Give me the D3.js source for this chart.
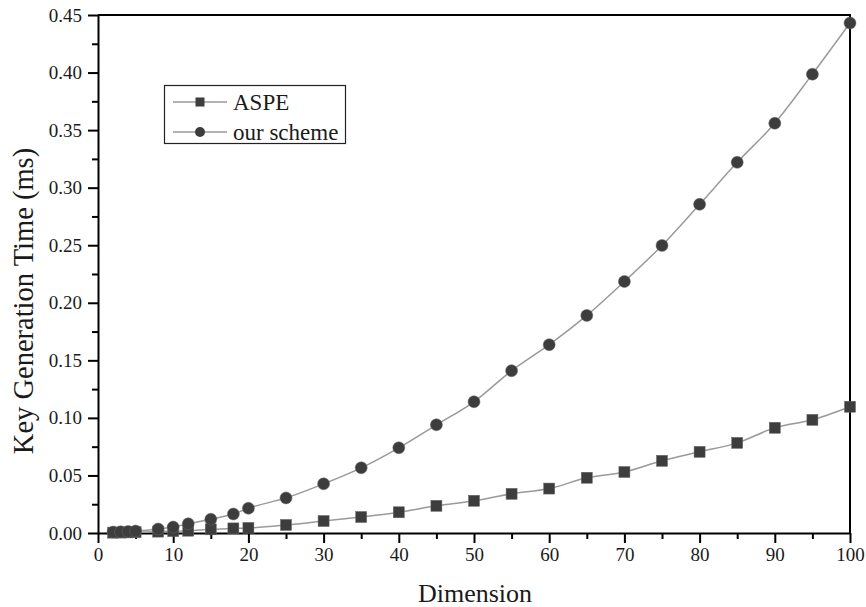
<!DOCTYPE html>
<html>
<head>
<meta charset="utf-8">
<script src="https://cdn.jsdelivr.net/npm/d3@7"></script>
<style>
  body { margin: 0; background: #fff; }
  svg { display: block; font-family: "Liberation Serif", "Times New Roman", serif; }
  .axis path, .axis line { stroke: #000; }
  .axis text { fill: #1a1a1a; font-family: "Liberation Serif", "Times New Roman", serif; }
</style>
</head>
<body>
<div id="chart"></div>
<script>
var width = 866,
    height = 607;

// data
var dims = [2, 3, 4, 5, 8, 10, 12, 15, 18, 20, 25, 30, 35, 40, 45, 50, 55, 60, 65, 70, 75, 80, 85, 90, 95, 100];
var aspe = [0.0003, 0.0004, 0.0005, 0.0007, 0.0012, 0.0016, 0.002, 0.0032, 0.0040, 0.0044, 0.0070, 0.0104, 0.0139, 0.018,
            0.0236, 0.028, 0.034, 0.0386, 0.048, 0.053, 0.0627, 0.0705, 0.0783, 0.0914, 0.0983, 0.1097];
var ourScheme = [0.0008, 0.001, 0.0013, 0.0017, 0.0035, 0.0052, 0.008, 0.012, 0.0165, 0.0215, 0.0305, 0.0427, 0.0566, 0.074,
                 0.094, 0.114, 0.141, 0.1636, 0.189, 0.2185, 0.2498, 0.2855, 0.322, 0.356, 0.3986, 0.443];
var xTicks = [0, 10, 20, 30, 40, 50, 60, 70, 80, 90, 100];
var xMinor = [5, 15, 25, 35, 45, 55, 65, 75, 85, 95];
var yTicks = [0, 0.05, 0.10, 0.15, 0.20, 0.25, 0.30, 0.35, 0.40, 0.45];
var yMinor = [0.025, 0.075, 0.125, 0.175, 0.225, 0.275, 0.325, 0.375, 0.425];
var seriesNames = ["ASPE", "our scheme"];

var pLeft = 98, pRight = 850, pTop = 15, pBottom = 533;

var svg = d3.select("#chart")
    .append("svg")
    .attr("width", width)
    .attr("height", height);

var x = d3.scaleLinear().domain([0, 100]).range([pLeft, pRight]);
var y = d3.scaleLinear().domain([0, 0.45]).range([pBottom, pTop]);

// frame (top and right)
svg.append("path")
    .attr("d", "M" + pLeft + "," + pTop + "H" + pRight + "V" + pBottom)
    .attr("fill", "none")
    .attr("stroke", "#000")
    .attr("stroke-width", 2);

// minor ticks first
svg.append("g")
    .attr("class", "axis")
    .attr("transform", "translate(0," + pBottom + ")")
    .call(d3.axisBottom(x).tickValues(xMinor).tickSize(6).tickFormat(""))
    .call(function(g) { g.select(".domain").remove(); })
    .selectAll("line").attr("stroke-width", 2);
svg.append("g")
    .attr("class", "axis")
    .attr("transform", "translate(" + pLeft + ",0)")
    .call(d3.axisLeft(y).tickValues(yMinor).tickSize(6).tickFormat(""))
    .call(function(g) { g.select(".domain").remove(); })
    .selectAll("line").attr("stroke-width", 2);

var xAxis = svg.append("g")
    .attr("class", "axis")
    .attr("transform", "translate(0," + pBottom + ")")
    .call(d3.axisBottom(x).tickValues(xTicks).tickSize(10).tickSizeOuter(0).tickPadding(5).tickFormat(d3.format("d")));
xAxis.select(".domain").attr("stroke-width", 2);
xAxis.selectAll("line").attr("stroke-width", 2);
xAxis.selectAll("text").style("font-size", "19px");

var yAxis = svg.append("g")
    .attr("class", "axis")
    .attr("transform", "translate(" + pLeft + ",0)")
    .call(d3.axisLeft(y).tickValues(yTicks).tickSize(10).tickSizeOuter(0).tickPadding(6).tickFormat(d3.format(".2f")));
yAxis.select(".domain").attr("stroke-width", 2);
yAxis.selectAll("line").attr("stroke-width", 2);
yAxis.selectAll("text").style("font-size", "19px");

// axis titles
svg.append("text")
    .attr("x", 475)
    .attr("y", 602)
    .attr("text-anchor", "middle")
    .style("font-size", "26px")
    .attr("fill", "#1a1a1a")
    .text("Dimension");
svg.append("text")
    .attr("transform", "translate(33,301) rotate(-90)")
    .attr("text-anchor", "middle")
    .style("font-size", "28.5px")
    .attr("fill", "#1a1a1a")
    .text("Key Generation Time (ms)");

var line = d3.line()
    .x(function(d) { return x(d[0]); })
    .y(function(d) { return y(d[1]); })
    .curve(d3.curveMonotoneX);

var series = [aspe, ourScheme].map(function(vals) {
  return dims.map(function(d, i) { return [d, vals[i]]; });
});

var plot = svg.append("g");
series.forEach(function(s) {
  plot.append("path")
      .datum(s)
      .attr("fill", "none")
      .attr("stroke", "#9a9a9a")
      .attr("stroke-width", 1.5)
      .attr("d", line);
});

var markFill = "#3d3d3d";
plot.selectAll("rect.pt")
    .data(series[0])
    .enter().append("rect")
    .attr("class", "pt")
    .attr("x", function(d) { return x(d[0]) - 5.5; })
    .attr("y", function(d) { return y(d[1]) - 5.5; })
    .attr("width", 11)
    .attr("height", 11)
    .attr("fill", markFill)
    .attr("stroke", "#666")
    .attr("stroke-width", 0.5);
plot.selectAll("circle.pt")
    .data(series[1])
    .enter().append("circle")
    .attr("class", "pt")
    .attr("cx", function(d) { return x(d[0]); })
    .attr("cy", function(d) { return y(d[1]); })
    .attr("r", 6)
    .attr("fill", markFill)
    .attr("stroke", "#666")
    .attr("stroke-width", 0.5);

// legend
var legend = svg.append("g");
legend.append("rect")
    .attr("x", 164.5)
    .attr("y", 85.5)
    .attr("width", 181)
    .attr("height", 58)
    .attr("fill", "#fff")
    .attr("stroke", "#222")
    .attr("stroke-width", 1.2);
var rows = legend.selectAll("g.row")
    .data(seriesNames)
    .enter().append("g")
    .attr("class", "row")
    .attr("transform", function(d, i) { return "translate(0," + (102 + i * 30) + ")"; });
rows.append("line")
    .attr("x1", 173).attr("x2", 227)
    .attr("stroke", "#9a9a9a")
    .attr("stroke-width", 1.5);
rows.filter(function(d, i) { return i === 0; })
    .append("rect")
    .attr("x", 195.5).attr("y", -4.5)
    .attr("width", 9).attr("height", 9)
    .attr("fill", markFill);
rows.filter(function(d, i) { return i === 1; })
    .append("circle")
    .attr("cx", 200).attr("r", 5)
    .attr("fill", markFill);
rows.append("text")
    .attr("x", 233)
    .attr("y", 7.5)
    .style("font-size", "23px")
    .attr("fill", "#1a1a1a")
    .text(function(d) { return d; });
</script>
</body>
</html>
